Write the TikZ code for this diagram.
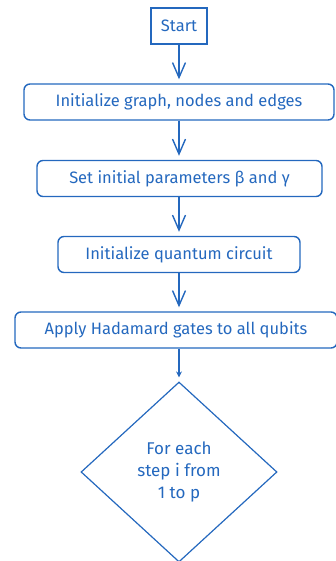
\documentclass[tikz,border=0pt]{standalone}
\usepackage{fontspec}
\setmainfont{Fira Sans}
\usetikzlibrary{arrows.meta,shapes.geometric}
\definecolor{ink}{RGB}{36,104,190}
\tikzset{
  flow/.style={draw=ink, line width=1.4pt, text=ink, font=\fontsize{16.5}{20}\selectfont},
  stepbox/.style={flow, rounded corners=6pt, minimum height=36pt, inner xsep=2pt},
  startbox/.style={flow, minimum width=56pt, minimum height=36pt, inner xsep=2pt},
  choice/.style={flow, line width=1.2pt, shape=diamond, minimum width=196pt, minimum height=180pt, align=center, font=\fontsize{17}{22}\selectfont},
  link/.style={draw=ink, line width=1.4pt, shorten >=4pt, -{Straight Barb[length=15pt,width=13pt,line width=1.4pt]}},
  linksmall/.style={draw=ink, line width=1.4pt, shorten >=4pt, -{Stealth[length=6pt,width=6pt]}}
}
\begin{document}
\begin{tikzpicture}[x=1pt,y=-1pt]
  \useasboundingbox (0,0) rectangle (336,561);
  \node[startbox] (start) at (179,26) {Start};
  \node[stepbox, minimum width=310pt] (graph) at (179,102) {Initialize graph, nodes and edges};
  \node[stepbox, minimum width=285pt] (params) at (179.5,178.5) {Set initial parameters β and γ};
  \node[stepbox, minimum width=242pt] (circuit) at (179,254.5) {Initialize quantum circuit};
  \node[stepbox, minimum width=322pt] (hadamard) at (176,330) {Apply Hadamard gates to all qubits};
  \node[choice] (loop) at (179,472) {For each\\step i from\\1 to p};
  \draw[link] (start.south) -- (start.south |- graph.north);
  \draw[link] (graph.south -| start.south) -- (start.south |- params.north);
  \draw[link] (params.south -| start.south) -- (start.south |- circuit.north);
  \draw[link] (circuit.south -| start.south) -- (start.south |- hadamard.north);
  \draw[linksmall] (hadamard.south -| loop.north) -- (loop.north);
\end{tikzpicture}
\end{document}
